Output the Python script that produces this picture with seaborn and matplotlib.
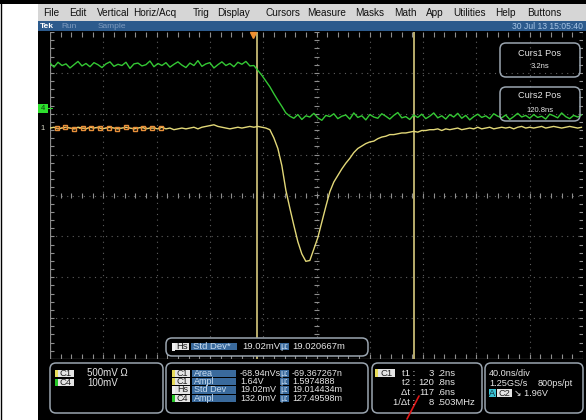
import numpy as np
import pandas as pd
import matplotlib
matplotlib.use("Agg")
import matplotlib.pyplot as plt
from matplotlib.patches import Rectangle, FancyBboxPatch
from matplotlib.collections import LineCollection
import seaborn as sns

# ---------------- acquisition record ----------------
T0_NS = -152.0          # time of the first sample
DT_NS = 3.0             # sample spacing
T_SPAN_NS = 400.0       # 10 div x 40 ns/div

# Channel 1 (volts)
ch1_volts = [
    0.00, 0.01, -0.01, 0.00, 0.01, 0.00, -0.01, 0.01, 0.00, -0.01,
    0.01, 0.00, 0.01, -0.01, 0.00, 0.01, 0.00, -0.01, 0.00, 0.01,
    0.00, -0.01, 0.00, 0.01, -0.01, 0.00, 0.00, -0.01, 0.01, -0.01,
    0.00, -0.02, -0.01, 0.00, -0.01, 0.00, 0.01, -0.01, 0.01, 0.02,
    0.03, 0.04, 0.02, 0.01, 0.00, -0.01, 0.00, 0.01, 0.00, 0.01,
    0.02, 0.01, 0.02, 0.01, 0.00,
    -0.02, -0.12, -0.25, -0.46, -0.76, -0.98, -1.19, -1.39, -1.54, -1.63,
    -1.62, -1.48, -1.34, -1.15, -0.96, -0.78, -0.66, -0.58, -0.50, -0.43,
    -0.37, -0.30, -0.25, -0.22, -0.19, -0.17, -0.16, -0.13, -0.11, -0.10,
    -0.08, -0.08, -0.07, -0.06, -0.06, -0.05, -0.04, -0.05, -0.03, -0.03,
    -0.02,
    -0.02, -0.01, -0.03, -0.01, -0.02, -0.01, 0.00, -0.02, -0.01, 0.00,
    -0.01, 0.01, -0.01, 0.00, 0.01, -0.01, 0.00, 0.01, 0.00, 0.01,
    -0.01, 0.01, 0.02, 0.00, 0.01, 0.00, 0.01, 0.02, 0.00, 0.01,
    0.02, 0.01, 0.00, 0.01, 0.02, 0.01, 0.00, 0.01,
]

# Channel 4 (millivolts)
ch4_mv = [
    110, 100, 112, 104, 108, 98, 106, 114, 103, 109,
    101, 111, 106, 99, 108, 113, 102, 107, 104, 112,
    97, 108, 110, 103, 106, 115, 101, 109, 104, 111,
    100, 107, 113, 105, 99, 110, 104, 116, 102, 108,
    111, 98, 106, 113, 104, 109, 101, 112, 107, 114, 103,
    104, 92, 80, 66, 52, 35, 19, 4, -12, -20,
    -25, -16, -28, -19, -22, -13, -24, -30, -18, -21,
    -14, -26, -20, -17, -27, -12, -23, -19, -29, -16,
    -22, -25, -14, -20, -27, -18, -11, -24, -21, -28,
    -17, -23, -15, -26, -20, -12, -24, -19, -27, -16,
    -22, -13, -25, -18, -29, -21, -15, -23, -19, -26,
    -14, -20, -24, -17, -28, -21, -13, -22, -18, -25,
    -16, -23, -20, -27, -15, -19, -24, -12, -21, -26,
    -18, -22, -17,
]

ch1_scale_v = 0.5        # V/div
ch4_scale_mv = 100.0     # mV/div
ch1_pos_div = 1.65
ch4_pos_div = 2.14

cursor_ns = [3.2, 120.8]
hist_marker_ns = [-147, -140.5, -134, -127.5, -121, -114.5, -108,
                  -101.5, -95, -88.5, -82, -75.5, -69]

# ---------------- readout texts ----------------
menu_items = ["File", "Edit", "Vertical", "Horiz/Acq", "Trig", "Display",
              "Cursors", "Measure", "Masks", "Math", "App", "Utilities",
              "Help", "Buttons"]
menu_x = [43, 69, 97, 133, 193, 217, 265, 307, 355, 394, 426, 453, 495, 527]

meas_src = ["C1", "C1", "Hs", "C4"]
meas_src_color = ["#e8dc5a", "#e8dc5a", "#f0f0f0", "#27c627"]
meas_name = ["Area", "Ampl", "Std Dev", "Ampl"]
meas_value = ["-68.94nVs", "1.64V", "19.02mV", "132.0mV"]
meas_mean = ["-69.367267n", "1.5974888", "19.014434m", "127.49598m"]

curs_label = ["t1 :", "t2 :", "\u0394t :", "1/\u0394t :"]
curs_int = ["3", "120", "117", "8"]
curs_frac = [".2ns", ".8ns", ".6ns", ".503MHz"]

W, H = 586, 420
FONT = ["Liberation Sans", "DejaVu Sans"]

sns.set_theme(style="dark")
plt.rcParams["font.family"] = FONT

fig = plt.figure(figsize=(W / 100, H / 100), dpi=100)
fig.patch.set_facecolor("white")

# background layer in pixel units
bg = fig.add_axes([0, 0, 1, 1], zorder=0)
bg.set_xlim(0, W)
bg.set_ylim(H, 0)
bg.axis("off")
bg.add_patch(Rectangle((0, 0), W, H, facecolor="white", edgecolor="none"))
bg.add_patch(Rectangle((38, 4), W - 38, H - 4, facecolor="black", edgecolor="none"))
bg.add_patch(Rectangle((0, 0), W, 4, facecolor="black", edgecolor="none"))
bg.plot([0.5, 0.5], [0, H], color="black", lw=1)
bg.add_patch(Rectangle((38, 4), W - 38, 17, facecolor="#d6d6d6", edgecolor="none"))
bg.add_patch(Rectangle((38, 21), W - 38, 10, facecolor="#2c5a8c", edgecolor="none"))
for lab, x in zip(menu_items, menu_x):
    bg.text(x, 13.5, lab, fontsize=7.2, color="#101010", va="center", ha="left")
bg.text(40, 26.5, "Tek", fontsize=6, color="white", weight="bold", va="center")
bg.text(61, 26.5, "Run", fontsize=6, color="#7f9cc0", va="center")
bg.text(98, 26.5, "Sample", fontsize=6, color="#7f9cc0", va="center")
bg.text(583, 26.5, "30 Jul 13 15:05:40", fontsize=6.2, color="#a9c6e6",
        va="center", ha="right")

# ---------------- waveform graticule ----------------
GX0, GX1, GY0, GY1 = 50, 583, 32, 359
ax = fig.add_axes([GX0 / W, 1 - GY1 / H, (GX1 - GX0) / W, (GY1 - GY0) / H], zorder=1)
ax.set_facecolor("black")
t_left = T0_NS
t_right = T0_NS + T_SPAN_NS
ax.set_xlim(t_left, t_right)
ax.set_ylim(-4, 4)
ax.axis("off")

grid_kw = dict(color="#5e5e5e", lw=0.8, ls=(0, (1, 4)), zorder=1)
for k in range(1, 10):
    ax.axvline(t_left + 40 * k, **grid_kw)
for d in range(-3, 4):
    ax.axhline(d, **grid_kw)
ax.axvline(t_right, **grid_kw)

t_center = t_left + T_SPAN_NS / 2
segs = []
for tt in np.arange(t_left, t_right + 0.1, 8.0):
    segs.append([(tt, -0.07), (tt, 0.07)])
    segs.append([(tt, 4.0), (tt, 3.88)])
    segs.append([(tt, -4.0), (tt, -3.88)])
for dd in np.arange(-4, 4.01, 0.2):
    segs.append([(t_center - 2.2, dd), (t_center + 2.2, dd)])
    segs.append([(t_left, dd), (t_left + 3.0, dd)])
    segs.append([(t_right, dd), (t_right - 3.0, dd)])
ax.add_collection(LineCollection(segs, colors="#8e8e8e", lw=0.8, zorder=2))
ax.plot([t_left, t_left], [-4, 4], color="#8a8a8a", lw=0.9, zorder=2)
ax.plot([t_left, t_right], [-4, -4], color="#8a8a8a", lw=0.9, zorder=2)

for c in cursor_ns:
    ax.axvline(c, color="#b9ad6c", lw=1.4, zorder=3)

# ---------------- traces ----------------
t1 = T0_NS + DT_NS * np.arange(len(ch1_volts))
t4 = T0_NS + DT_NS * np.arange(len(ch4_mv))
df = pd.concat([
    pd.DataFrame({"t": t4, "div": ch4_pos_div + np.array(ch4_mv) / ch4_scale_mv, "ch": "C4"}),
    pd.DataFrame({"t": t1, "div": ch1_pos_div + np.array(ch1_volts) / ch1_scale_v, "ch": "C1"}),
])
sns.lineplot(data=df, x="t", y="div", hue="ch", units="ch", estimator=None,
             sort=False, palette={"C1": "#e2d878", "C4": "#34c834"},
             linewidth=1.0, legend=False, ax=ax, zorder=4)

hm_y = ch1_pos_div + np.interp(hist_marker_ns, t1, ch1_volts) / ch1_scale_v
ax.plot(hist_marker_ns, hm_y, color="#e8903a", lw=0.8, ls=(0, (2, 2)),
        marker="s", ms=3.2, mfc="none", mec="#e8903a", mew=1.0, zorder=5)

# trigger position marker
ax.plot([0], [3.93], marker="v", ms=5, color="#f09030", clip_on=False, zorder=6)

# ---------------- overlay (pixel units) ----------------
ov = fig.add_axes([0, 0, 1, 1], zorder=2)
ov.set_xlim(0, W)
ov.set_ylim(H, 0)
ov.axis("off")
ov.patch.set_alpha(0)

BLUE = "#3a6a9c"
LIGHT = "#e6e6e6"


def rbox(x0, y0, x1, y1, fill="black", ec="#9aa5b0", r=6):
    ov.add_patch(FancyBboxPatch((x0, y0), x1 - x0, y1 - y0,
                                boxstyle=f"round,pad=0,rounding_size={r}",
                                facecolor=fill, edgecolor=ec, lw=1.1))


def tag(x0, x1, yc, text, fc, tc, h=7.5, fs=6.5, left=False):
    ov.add_patch(Rectangle((x0, yc - h / 2), x1 - x0, h, facecolor=fc, edgecolor="none"))
    if left:
        ov.text(x0 + 2, yc, text, fontsize=fs, color=tc, va="center", ha="left")
    else:
        ov.text((x0 + x1) / 2, yc, text, fontsize=fs, color=tc, va="center", ha="center")


# channel reference markers at the left edge
ch4_py = GY0 + (4 - ch4_pos_div) / 8 * (GY1 - GY0)
ch1_py = GY0 + (4 - ch1_pos_div) / 8 * (GY1 - GY0)
ov.add_patch(Rectangle((38, ch4_py - 4.5), 10, 9, facecolor="#2ee02e", edgecolor="none"))
ov.text(43, ch4_py, "4", fontsize=5.5, color="#104010", ha="center", va="center")
ov.plot([48, 52], [ch4_py, ch4_py], color="#2ee02e", lw=0.8)
ov.text(43, ch1_py, "1", fontsize=5.5, color="#d8d8c8", ha="center", va="center")

# cursor position readouts
rbox(500, 43, 580, 77, fill="none")
ov.text(540, 53, "Curs1 Pos", fontsize=6.6, color=LIGHT, ha="center", va="center")
ov.text(540, 67, "3.2ns", fontsize=5.5, color=LIGHT, ha="center", va="center")
rbox(500, 87, 580, 121, fill="none")
ov.text(540, 96, "Curs2 Pos", fontsize=6.6, color=LIGHT, ha="center", va="center")
ov.text(540, 111, "120.8ns", fontsize=5.5, color=LIGHT, ha="center", va="center")

# histogram std-dev readout
rbox(166, 338, 368, 356)
ov.add_patch(Rectangle((172, 343), 3, 7.5, facecolor="#f0f0f0", edgecolor="none"))
tag(175, 189, 346.7, "Hs", "#e4e4e4", "#202020", fs=6.8)
tag(191, 237, 346.7, "Std Dev*", BLUE, "#c8dcf0", fs=6.8, left=True)
ov.text(242, 346.7, "19.02mV", fontsize=6.8, color=LIGHT, va="center")
tag(280, 289, 346.7, "\u00b5:", BLUE, "#c8dcf0", fs=6.8)
ov.text(292, 346.7, "19.020667m", fontsize=6.8, color=LIGHT, va="center")

# vertical settings
rbox(50, 363, 163, 413)
for yc, src, col, txt in [(373.5, "C1", "#e8dc5a", "500mV \u03a9"),
                          (382.5, "C4", "#27c627", "100mV")]:
    ov.add_patch(Rectangle((55, yc - 3.75), 3, 7.5, facecolor=col, edgecolor="none"))
    tag(58, 74, yc, src, "#e4e4e4", "#202020", fs=6.8)
    ov.text(87, yc, txt, fontsize=7, color=LIGHT, va="center")

# measurements
rbox(166, 363, 368, 413)
for i, yc in enumerate([373.3, 381.7, 390.0, 398.3]):
    ov.add_patch(Rectangle((172, yc - 3.75), 3, 7.5, facecolor=meas_src_color[i], edgecolor="none"))
    tag(175, 190, yc, meas_src[i], "#e4e4e4", "#202020")
    tag(192, 236, yc, meas_name[i], BLUE, "#c8dcf0", left=True)
    ov.text(240, yc, meas_value[i], fontsize=6.5, color=LIGHT, va="center")
    tag(280, 289, yc, "\u00b5:", BLUE, "#c8dcf0")
    ov.text(292, yc, meas_mean[i], fontsize=6.5, color=LIGHT, va="center")

# cursor readouts
rbox(372, 363, 482, 413)
ov.add_patch(Rectangle((375, 369.2), 3, 7.5, facecolor="#e8dc5a", edgecolor="none"))
tag(378, 395, 373, "C1", "#e4e4e4", "#202020", fs=6.8)
for i, yc in enumerate([373, 382.5, 392.5, 402.5]):
    ov.text(415, yc, curs_label[i], fontsize=6.8, color=LIGHT, va="center", ha="right")
    ov.text(434, yc, curs_int[i], fontsize=6.8, color=LIGHT, va="center", ha="right")
    ov.text(437, yc, curs_frac[i], fontsize=6.8, color=LIGHT, va="center", ha="left")

# timebase / trigger
rbox(485, 363, 583, 413)
ov.text(489, 373, "40.0ns/div", fontsize=6.6, color=LIGHT, va="center")
ov.text(489, 383, "1.25GS/s", fontsize=6.6, color=LIGHT, va="center")
ov.text(538, 383, "800ps/pt", fontsize=6.6, color=LIGHT, va="center")
tag(489, 496, 393, "A", "#3cc4d4", "#103040", fs=6.6)
tag(497, 512, 393, "C2", "#e4e4e4", "#202020", fs=6.6)
ov.text(514, 393, "\u2198 1.96V", fontsize=6.6, color=LIGHT, va="center")

# red pointer
ov.plot([407, 419], [419, 396], color="#e01818", lw=1.2)

fig.savefig("out.png", dpi=100, facecolor=fig.get_facecolor())
